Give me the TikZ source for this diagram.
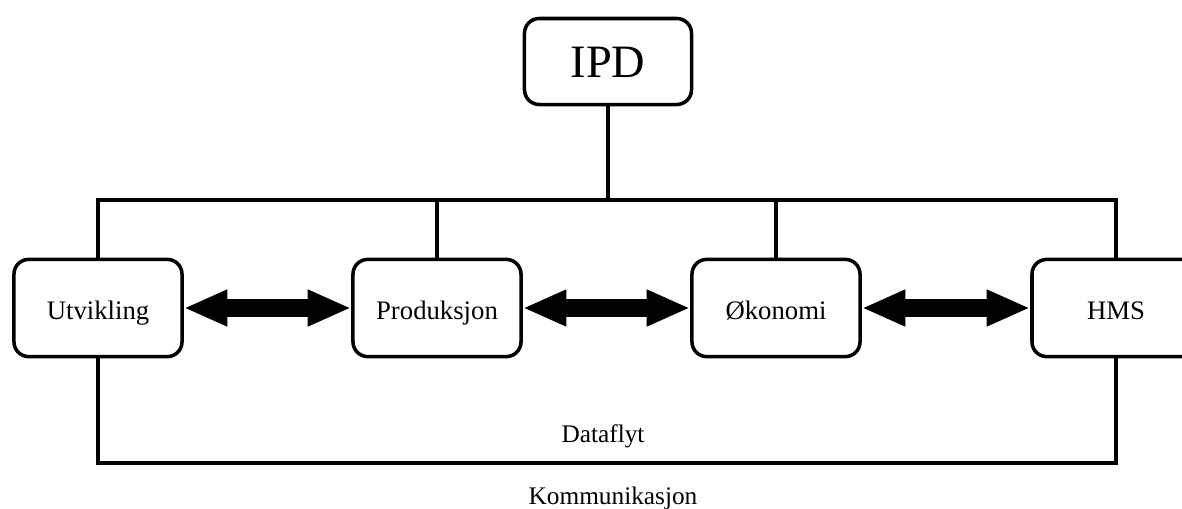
\documentclass[tikz,border=0pt]{standalone}
\usepackage{fontspec}
\setmainfont{Liberation Serif}
\usetikzlibrary{arrows.meta}

\begin{document}
\begin{tikzpicture}[x=0.025cm,y=-0.025cm,
    unit/.style={draw,line width=2.5pt,rounded corners=10.5pt,minimum width=4.2cm,minimum height=2.43cm,text height=0.55cm,text depth=0cm,font=\fontsize{19}{23}\selectfont},
    link/.style={line width=2.4pt},
    flow/.style={line width=13pt,{Triangle[length=31pt,width=24pt]}-{Triangle[length=31pt,width=24pt]}}]
    \useasboundingbox (0,0) rectangle (1182,508);
    \clip (0,0) rectangle (1182,508);
    \node[unit,minimum width=4.175cm,minimum height=2.15cm,text height=0.8cm,font=\fontsize{33}{40}\selectfont] (ipd) at (608,61.5) {IPD};
    \node[unit] (utv) at (98,308) {Utvikling};
    \node[unit] (prod) at (437,308) {Produksjon};
    \node[unit] (oko) at (776,308) {Økonomi};
    \node[unit] (hms) at (1116,308) {HMS};
    \coordinate (bus) at (608,200);
    \coordinate (base) at (608,463);
    \draw[link] (ipd) -- (bus);
    \draw[link] (utv.north) |- (bus) -| (hms.north);
    \draw[link] (prod.north) -- (prod.north |- bus);
    \draw[link] (oko.north) -- (oko.north |- bus);
    \draw[link,line width=3pt] (utv.south) |- (base) -| (hms.south);
    \draw[flow] (utv) -- (prod);
    \draw[flow] (prod) -- (oko);
    \draw[flow] (oko) -- (hms);
    \node[anchor=base,font=\fontsize{18}{22}\selectfont] (dataflyt) at (603,442) {Dataflyt};
    \node[anchor=base,font=\fontsize{18}{22}\selectfont] (komm) at (613,504) {Kommunikasjon};
\end{tikzpicture}
\end{document}
